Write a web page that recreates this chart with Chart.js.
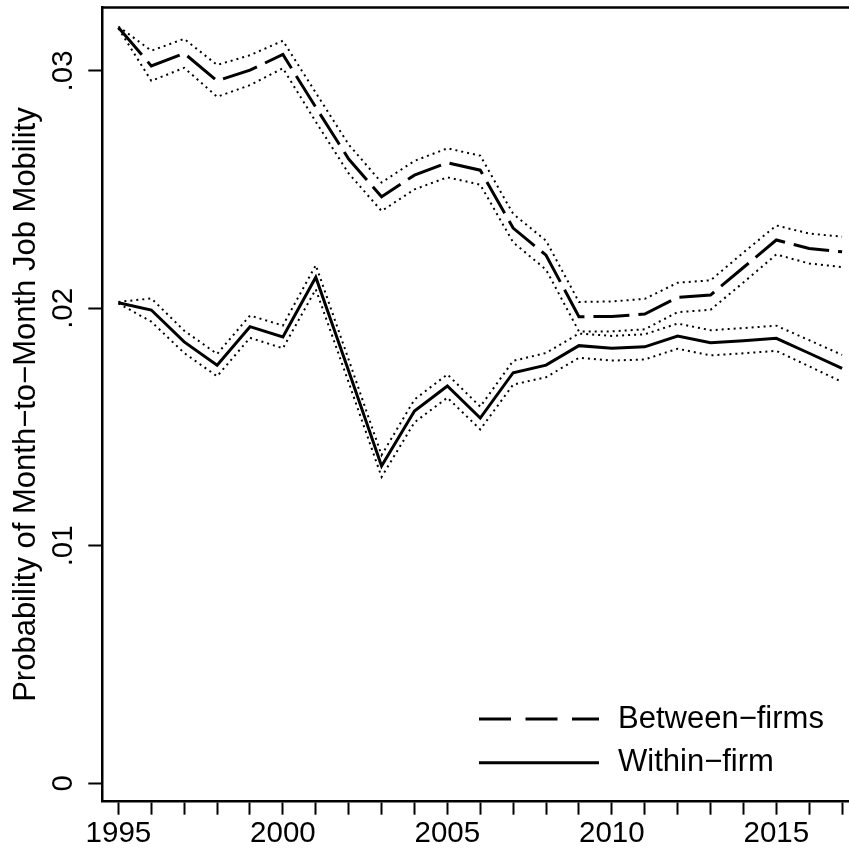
<!DOCTYPE html>
<html lang="en">
<head>
    <meta charset="UTF-8">
    <title>Job Mobility</title>
    <script src="https://cdn.jsdelivr.net/npm/chart.js"></script>
    <style>
        body { margin: 0; background: #fff; }
        #wrap { width: 849px; height: 850px; }
    </style>
</head>
<body>
    <div id="wrap"><canvas id="mobilityChart"></canvas></div>

    <script>
        // yearly probability of a job change, with 95% bands
        const years = [1995, 1996, 1997, 1998, 1999, 2000, 2001, 2002, 2003, 2004, 2005, 2006,
                       2007, 2008, 2009, 2010, 2011, 2012, 2013, 2014, 2015, 2016, 2017];

        const betweenFirms = [0.03183, 0.03021, 0.03074, 0.02958, 0.03003, 0.03069, 0.02847, 0.02629,
                              0.02470, 0.02561, 0.02613, 0.02582, 0.02338, 0.02224, 0.01965, 0.01966,
                              0.01976, 0.02046, 0.02056, 0.02172, 0.02288, 0.02252, 0.02238];
        const betweenUpper = [0.03187, 0.03085, 0.03135, 0.03025, 0.03066, 0.03127, 0.02908, 0.02690,
                              0.02530, 0.02621, 0.02674, 0.02643, 0.02398, 0.02285, 0.02027, 0.02029,
                              0.02040, 0.02108, 0.02118, 0.02235, 0.02349, 0.02315, 0.02302];
        const betweenLower = [0.03179, 0.02958, 0.03013, 0.02891, 0.02940, 0.03011, 0.02786, 0.02568,
                              0.02410, 0.02501, 0.02552, 0.02521, 0.02278, 0.02163, 0.01903, 0.01903,
                              0.01912, 0.01984, 0.01994, 0.02109, 0.02227, 0.02189, 0.02174];

        const withinFirm = [0.02024, 0.01993, 0.01859, 0.01761, 0.01923, 0.01880, 0.02131, 0.01736,
                            0.01336, 0.01568, 0.01673, 0.01538, 0.01729, 0.01761, 0.01843, 0.01832,
                            0.01838, 0.01883, 0.01855, 0.01864, 0.01874, 0.01811, 0.01747];
        const withinUpper = [0.02027, 0.02042, 0.01906, 0.01808, 0.01970, 0.01928, 0.02182, 0.01784,
                             0.01382, 0.01616, 0.01722, 0.01586, 0.01779, 0.01812, 0.01894, 0.01884,
                             0.01891, 0.01936, 0.01908, 0.01917, 0.01927, 0.01866, 0.01804];
        const withinLower = [0.02021, 0.01944, 0.01812, 0.01714, 0.01876, 0.01832, 0.02080, 0.01688,
                             0.01290, 0.01520, 0.01624, 0.01490, 0.01679, 0.01710, 0.01792, 0.01780,
                             0.01785, 0.01830, 0.01802, 0.01811, 0.01821, 0.01756, 0.01690];

        const yTicks = [0, 0.01, 0.02, 0.03];
        const xLabelYears = [1995, 2000, 2005, 2010, 2015];
        const legendLabels = ['Between\u2212firms', 'Within\u2212firm'];

        const FONT = "'Liberation Sans', Arial, Helvetica, sans-serif";

        function pts(values) {
            return years.map((yr, i) => ({ x: yr, y: values[i] }));
        }

        function band(values) {
            return {
                data: pts(values),
                borderColor: '#000',
                borderWidth: 2,
                borderDash: [2, 4],
                pointRadius: 0,
                tension: 0,
                fill: false
            };
        }

        // frame line on top + legend inside the plot, bottom right
        const extras = {
            id: 'extras',
            afterDraw(chart) {
                const { ctx, chartArea } = chart;
                ctx.save();
                ctx.strokeStyle = '#000';
                ctx.lineWidth = 2.5;
                ctx.beginPath();
                ctx.moveTo(chartArea.left, chartArea.top);
                ctx.lineTo(chartArea.right, chartArea.top);
                ctx.stroke();

                const dashes = [[32, 14.5], []];
                const rows = [chartArea.bottom - 82.7, chartArea.bottom - 39];
                const x0 = chartArea.right - 370;
                ctx.lineWidth = 3;
                ctx.font = '31px ' + FONT;
                ctx.fillStyle = '#000';
                ctx.textBaseline = 'middle';
                legendLabels.forEach((label, i) => {
                    ctx.setLineDash(dashes[i]);
                    ctx.beginPath();
                    ctx.moveTo(x0, rows[i]);
                    ctx.lineTo(x0 + 120, rows[i]);
                    ctx.stroke();
                    ctx.setLineDash([]);
                    ctx.fillText(label, x0 + 139, rows[i]);
                });
                ctx.restore();
            }
        };

        const ctx = document.getElementById('mobilityChart').getContext('2d');
        new Chart(ctx, {
            type: 'line',
            data: {
                datasets: [
                    band(betweenUpper),
                    band(betweenLower),
                    band(withinUpper),
                    band(withinLower),
                    {
                        label: legendLabels[0],
                        data: pts(betweenFirms),
                        borderColor: '#000',
                        borderWidth: 3,
                        borderDash: [36, 9],
                        pointRadius: 0,
                        tension: 0
                    },
                    {
                        label: legendLabels[1],
                        data: pts(withinFirm),
                        borderColor: '#000',
                        borderWidth: 3,
                        pointRadius: 0,
                        tension: 0
                    }
                ]
            },
            options: {
                responsive: true,
                maintainAspectRatio: false,
                animation: false,
                layout: { padding: { top: 7.5, right: 0, bottom: 0, left: 0 } },
                plugins: {
                    legend: { display: false },
                    tooltip: { enabled: false }
                },
                scales: {
                    x: {
                        type: 'linear',
                        min: 1994.51,
                        max: 2017.21,
                        afterBuildTicks: (s) => { s.ticks = years.map(v => ({ value: v })); },
                        afterFit: (s) => { s.height = 48.3; },
                        ticks: {
                            autoSkip: false,
                            maxRotation: 0,
                            padding: 1,
                            color: '#000',
                            font: { family: FONT, size: 29.5 },
                            callback: (v) => xLabelYears.includes(v) ? String(v) : ''
                        },
                        grid: { drawOnChartArea: false, tickLength: 13, tickWidth: 2, tickColor: '#000' },
                        border: { color: '#000', width: 2.5 }
                    },
                    y: {
                        min: -0.000775,
                        max: 0.03267,
                        afterBuildTicks: (s) => { s.ticks = yTicks.map(v => ({ value: v })); },
                        afterFit: (s) => {
                            s.width = 102.3;
                            // rotated labels sit well inside the axis, no extra room needed
                            s.paddingTop = 0;
                            s.paddingBottom = 0;
                        },
                        ticks: {
                            minRotation: 90,
                            maxRotation: 90,
                            crossAlign: 'center',
                            padding: 3.5,
                            color: '#000',
                            font: { family: FONT, size: 29.5 },
                            callback: (v) => v === 0 ? '0' : String(v).replace(/^0/, '')
                        },
                        grid: { drawOnChartArea: false, tickLength: 14, tickWidth: 2, tickColor: '#000' },
                        border: { color: '#000', width: 2.5 },
                        title: {
                            display: true,
                            text: 'Probability of Month\u2212to\u2212Month Job Mobility',
                            color: '#000',
                            font: { family: FONT, size: 31 },
                            padding: { top: 8, bottom: 0 }
                        }
                    }
                }
            },
            plugins: [extras]
        });
    </script>
</body>
</html>
